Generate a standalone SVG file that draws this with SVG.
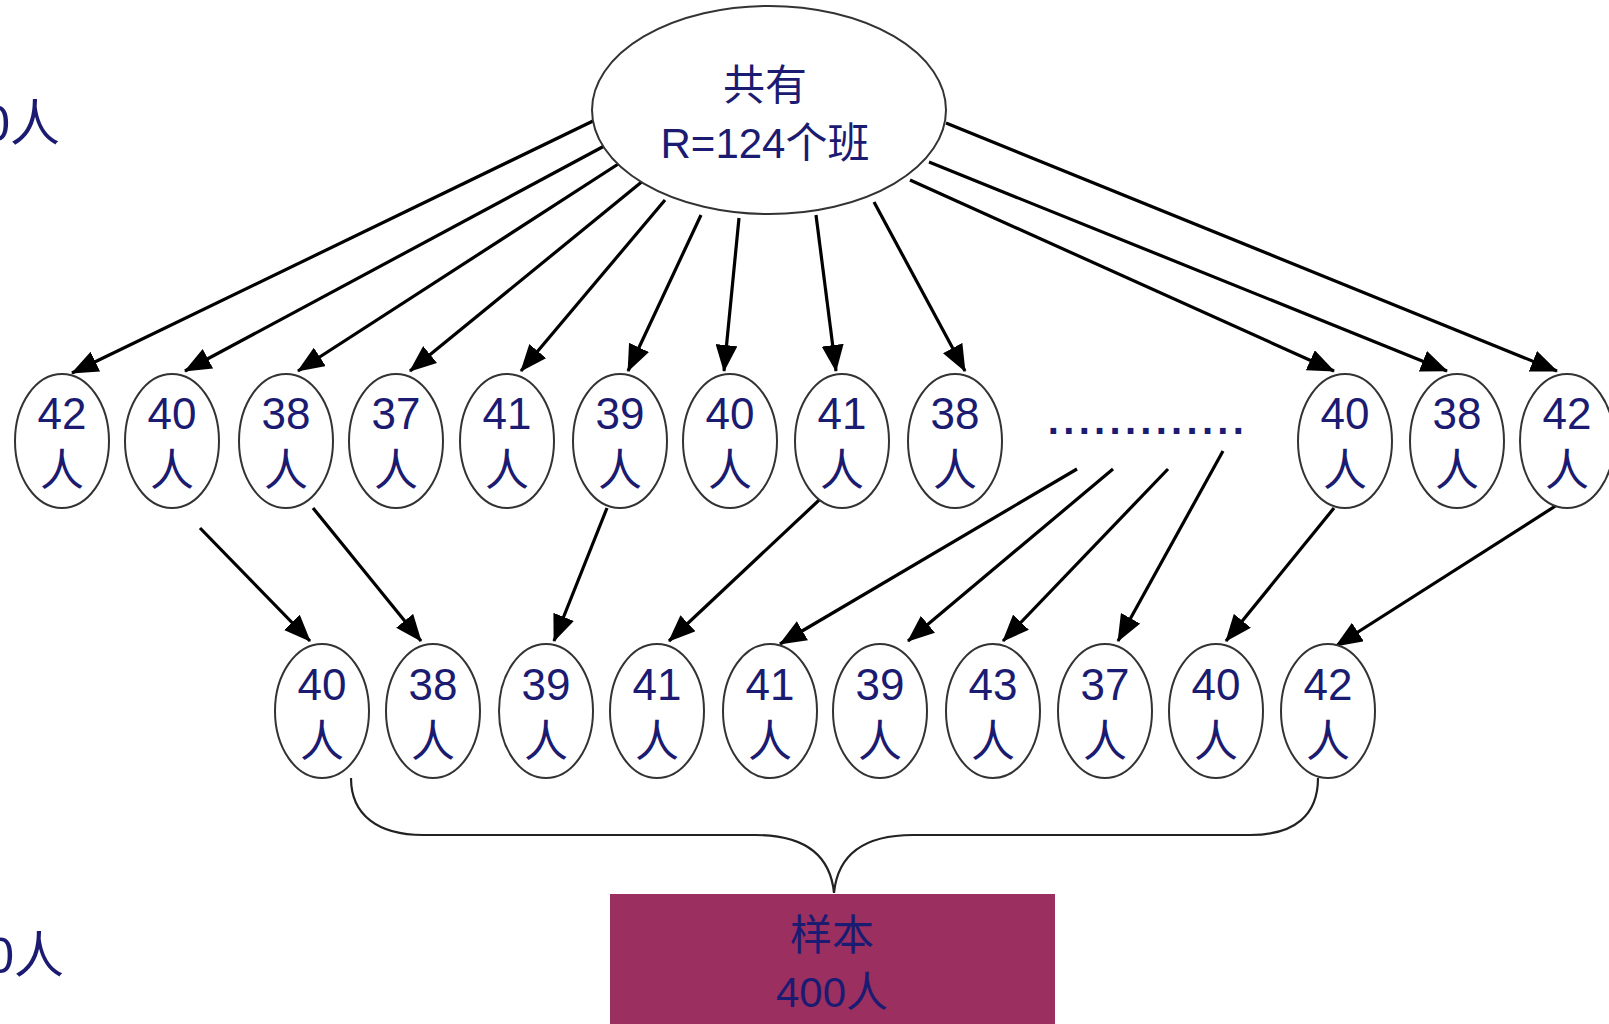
<svg xmlns="http://www.w3.org/2000/svg" width="1609" height="1024" viewBox="0 0 1609 1024">
<style>
.t{font-family:"Liberation Sans","Noto Sans CJK SC",sans-serif;fill:#1b1b72;text-anchor:middle}
.el{fill:#fff;stroke:#333;stroke-width:2}
.ar{stroke:#000;stroke-width:3.2;fill:none;marker-end:url(#ah)}
.br{stroke:#222;stroke-width:2.2;fill:none}
</style>
<defs>
<marker id="ah" markerWidth="27" markerHeight="22" refX="26" refY="11" orient="auto" markerUnits="userSpaceOnUse">
<path d="M0,0 L27,11 L0,22 z" fill="#000"/>
</marker>
</defs>
<rect width="1609" height="1024" fill="#fff"/>
<text class="t" x="60" y="141" font-size="50" style="text-anchor:end">0人</text>
<text class="t" x="64" y="973" font-size="50" style="text-anchor:end">0人</text>

<g id="connectors">
<line class="ar" x1="593" y1="121" x2="72" y2="373"/>
<line class="ar" x1="608" y1="144" x2="185" y2="371"/>
<line class="ar" x1="626" y1="159" x2="298" y2="371"/>
<line class="ar" x1="644" y1="180" x2="410" y2="371"/>
<line class="ar" x1="665" y1="200" x2="521" y2="371"/>
<line class="ar" x1="701" y1="215" x2="628" y2="371"/>
<line class="ar" x1="739" y1="218" x2="724" y2="371"/>
<line class="ar" x1="816" y1="215" x2="836" y2="371"/>
<line class="ar" x1="874" y1="202" x2="965" y2="371"/>
<line class="ar" x1="910" y1="180" x2="1334" y2="371"/>
<line class="ar" x1="929" y1="162" x2="1447" y2="371"/>
<line class="ar" x1="946" y1="123" x2="1557" y2="371"/>
<line class="ar" x1="200" y1="528" x2="310" y2="641"/>
<line class="ar" x1="313" y1="508" x2="421" y2="641"/>
<line class="ar" x1="607" y1="508" x2="554" y2="641"/>
<line class="ar" x1="833" y1="487" x2="669" y2="641"/>
<line class="ar" x1="1077" y1="469" x2="780" y2="644"/>
<line class="ar" x1="1113" y1="469" x2="908" y2="641"/>
<line class="ar" x1="1168" y1="469" x2="1003" y2="641"/>
<line class="ar" x1="1223" y1="451" x2="1118" y2="641"/>
<line class="ar" x1="1334" y1="508" x2="1226" y2="641"/>
<line class="ar" x1="1557" y1="505" x2="1336" y2="646"/>
<path class="br" d="M351,778 C351,815 378,835 423,835 L755,835 C800,835 830,852 834,893 C838,852 868,835 913,835 L1250,835 C1295,835 1318,815 1318,778"/>
</g>

<g id="root">
<ellipse class="el" cx="769" cy="110" rx="177" ry="104"/>
<text class="t" x="765" y="100" font-size="42">共有</text>
<text class="t" x="765" y="158" font-size="42">R=124个班</text>
</g>

<g id="row1">
<g id="a1"><ellipse class="el" cx="62" cy="441" rx="47" ry="67"/><text class="t" x="62" y="429" font-size="44">42</text><text class="t" x="62" y="486" font-size="44">人</text></g>
<g id="a2"><ellipse class="el" cx="172" cy="441" rx="47" ry="67"/><text class="t" x="172" y="429" font-size="44">40</text><text class="t" x="172" y="486" font-size="44">人</text></g>
<g id="a3"><ellipse class="el" cx="286" cy="441" rx="47" ry="67"/><text class="t" x="286" y="429" font-size="44">38</text><text class="t" x="286" y="486" font-size="44">人</text></g>
<g id="a4"><ellipse class="el" cx="396" cy="441" rx="47" ry="67"/><text class="t" x="396" y="429" font-size="44">37</text><text class="t" x="396" y="486" font-size="44">人</text></g>
<g id="a5"><ellipse class="el" cx="507" cy="441" rx="47" ry="67"/><text class="t" x="507" y="429" font-size="44">41</text><text class="t" x="507" y="486" font-size="44">人</text></g>
<g id="a6"><ellipse class="el" cx="620" cy="441" rx="47" ry="67"/><text class="t" x="620" y="429" font-size="44">39</text><text class="t" x="620" y="486" font-size="44">人</text></g>
<g id="a7"><ellipse class="el" cx="730" cy="441" rx="47" ry="67"/><text class="t" x="730" y="429" font-size="44">40</text><text class="t" x="730" y="486" font-size="44">人</text></g>
<g id="a8"><ellipse class="el" cx="842" cy="441" rx="47" ry="67"/><text class="t" x="842" y="429" font-size="44">41</text><text class="t" x="842" y="486" font-size="44">人</text></g>
<g id="a9"><ellipse class="el" cx="955" cy="441" rx="47" ry="67"/><text class="t" x="955" y="429" font-size="44">38</text><text class="t" x="955" y="486" font-size="44">人</text></g>
<g id="dots"><text class="t" x="1148" y="434" font-size="40" font-weight="bold" style="letter-spacing:4.3px">.............</text></g>
<g id="a10"><ellipse class="el" cx="1345" cy="441" rx="47" ry="67"/><text class="t" x="1345" y="429" font-size="44">40</text><text class="t" x="1345" y="486" font-size="44">人</text></g>
<g id="a11"><ellipse class="el" cx="1457" cy="441" rx="47" ry="67"/><text class="t" x="1457" y="429" font-size="44">38</text><text class="t" x="1457" y="486" font-size="44">人</text></g>
<g id="a12"><ellipse class="el" cx="1567" cy="441" rx="47" ry="67"/><text class="t" x="1567" y="429" font-size="44">42</text><text class="t" x="1567" y="486" font-size="44">人</text></g>
</g>

<g id="row2">
<g id="b1"><ellipse class="el" cx="322" cy="711" rx="47" ry="67"/><text class="t" x="322" y="700" font-size="44">40</text><text class="t" x="322" y="757" font-size="44">人</text></g>
<g id="b2"><ellipse class="el" cx="433" cy="711" rx="47" ry="67"/><text class="t" x="433" y="700" font-size="44">38</text><text class="t" x="433" y="757" font-size="44">人</text></g>
<g id="b3"><ellipse class="el" cx="546" cy="711" rx="47" ry="67"/><text class="t" x="546" y="700" font-size="44">39</text><text class="t" x="546" y="757" font-size="44">人</text></g>
<g id="b4"><ellipse class="el" cx="657" cy="711" rx="47" ry="67"/><text class="t" x="657" y="700" font-size="44">41</text><text class="t" x="657" y="757" font-size="44">人</text></g>
<g id="b5"><ellipse class="el" cx="770" cy="711" rx="47" ry="67"/><text class="t" x="770" y="700" font-size="44">41</text><text class="t" x="770" y="757" font-size="44">人</text></g>
<g id="b6"><ellipse class="el" cx="880" cy="711" rx="47" ry="67"/><text class="t" x="880" y="700" font-size="44">39</text><text class="t" x="880" y="757" font-size="44">人</text></g>
<g id="b7"><ellipse class="el" cx="993" cy="711" rx="47" ry="67"/><text class="t" x="993" y="700" font-size="44">43</text><text class="t" x="993" y="757" font-size="44">人</text></g>
<g id="b8"><ellipse class="el" cx="1105" cy="711" rx="47" ry="67"/><text class="t" x="1105" y="700" font-size="44">37</text><text class="t" x="1105" y="757" font-size="44">人</text></g>
<g id="b9"><ellipse class="el" cx="1216" cy="711" rx="47" ry="67"/><text class="t" x="1216" y="700" font-size="44">40</text><text class="t" x="1216" y="757" font-size="44">人</text></g>
<g id="b10"><ellipse class="el" cx="1328" cy="711" rx="47" ry="67"/><text class="t" x="1328" y="700" font-size="44">42</text><text class="t" x="1328" y="757" font-size="44">人</text></g>
</g>

<g id="sample">
<rect x="610" y="894" width="445" height="140" fill="#9b2f5f"/>
<text class="t" x="832" y="950" font-size="42">样本</text>
<text class="t" x="832" y="1007" font-size="42">400人</text>
</g>
</svg>
